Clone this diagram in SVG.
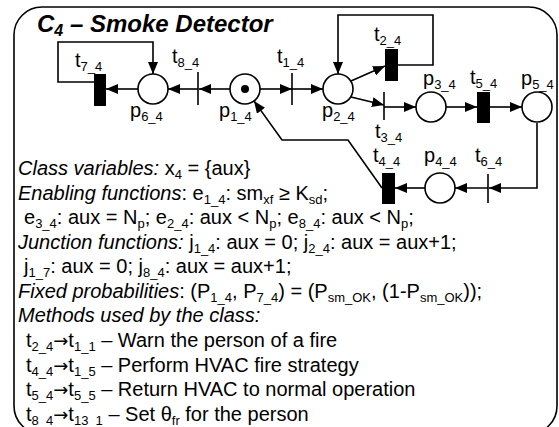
<svg xmlns="http://www.w3.org/2000/svg" width="559" height="427" viewBox="0 0 559 427">
<style>
text{font-family:"Liberation Sans",Arial,sans-serif;font-size:20px;fill:#000}
.i{font-style:italic}
.s{font-size:13px}
.a{font-family:"DejaVu Sans",sans-serif;font-size:18px}
.title{font-weight:bold;font-style:italic;font-size:24px}
.c{fill:#fff;stroke:#000;stroke-width:1.6}
.b{fill:#000}
.bar{stroke:#000;stroke-width:1.6}
.e{fill:none;stroke:#000;stroke-width:1.6;marker-end:url(#ah)}
</style>
<defs>
<marker id="ah" markerUnits="userSpaceOnUse" markerWidth="12" markerHeight="10" refX="12" refY="5" orient="auto">
<path d="M0,0 L12,5 L0,10 z" fill="#000"/>
</marker>
</defs>
<rect x="14" y="7" width="543" height="427" rx="28" ry="28" fill="none" stroke="#000" stroke-width="1.6"/>
<text class="title" x="37" y="32">C<tspan dy="4" font-size="16">4</tspan><tspan dy="-4"> – Smoke Detector</tspan></text>

<g id="connectors">
<path class="e" d="M230,89 H199"/>
<path class="e" d="M198,89 H168"/>
<path class="e" d="M138,89 H106"/>
<path class="e" d="M94,82 H58 V42 H153 V74"/>
<path class="e" d="M260,89 H292"/>
<path class="e" d="M292,89 H323"/>
<path class="e" d="M351,81 L385,66"/>
<path class="e" d="M398,65 H433 V15 H338 V74"/>
<path class="e" d="M351,97 L384,105"/>
<path class="e" d="M384,107 H416"/>
<path class="e" d="M446,107 H477"/>
<path class="e" d="M490,107 H522"/>
<path class="e" d="M537,123 V188 H489"/>
<path class="e" d="M488,188 H455"/>
<path class="e" d="M425,188 H395"/>
<path class="e" d="M382,188 L348,140 H282 L254,101"/>
</g>

<g id="p6_4"><circle class="c" cx="153" cy="89" r="15"/><text x="130" y="117">p<tspan class="s" dy="4">6_4</tspan></text></g>
<g id="t7_4"><rect class="b" x="94" y="74" width="12" height="32"/><text x="75" y="67">t<tspan class="s" dy="4">7_4</tspan></text></g>
<g id="t8_4"><line class="bar" x1="198" y1="72" x2="198" y2="105"/><text x="172" y="63">t<tspan class="s" dy="4">8_4</tspan></text></g>
<g id="p1_4"><circle class="c" cx="245" cy="89" r="15"/><circle class="b" cx="245" cy="89" r="4"/><text x="219" y="117">p<tspan class="s" dy="4">1_4</tspan></text></g>
<g id="t1_4"><line class="bar" x1="292" y1="73" x2="292" y2="105"/><text x="277" y="63">t<tspan class="s" dy="4">1_4</tspan></text></g>
<g id="p2_4"><circle class="c" cx="338" cy="89" r="15"/><text x="322" y="117">p<tspan class="s" dy="4">2_4</tspan></text></g>
<g id="t2_4"><rect class="b" x="385" y="49" width="13" height="32"/><text x="374" y="41">t<tspan class="s" dy="4">2_4</tspan></text></g>
<g id="t3_4"><line class="bar" x1="384" y1="92" x2="384" y2="120"/><text x="375" y="138">t<tspan class="s" dy="4">3_4</tspan></text></g>
<g id="p3_4"><circle class="c" cx="431" cy="107" r="15"/><text x="423" y="85">p<tspan class="s" dy="4">3_4</tspan></text></g>
<g id="t5_4"><rect class="b" x="477" y="92" width="13" height="31"/><text x="470" y="84">t<tspan class="s" dy="4">5_4</tspan></text></g>
<g id="p5_4"><circle class="c" cx="537" cy="107" r="15"/><text x="521" y="85">p<tspan class="s" dy="4">5_4</tspan></text></g>
<g id="t6_4"><line class="bar" x1="488" y1="174" x2="488" y2="203"/><text x="475" y="162">t<tspan class="s" dy="4">6_4</tspan></text></g>
<g id="p4_4"><circle class="c" cx="440" cy="188" r="15"/><text x="424" y="162">p<tspan class="s" dy="4">4_4</tspan></text></g>
<g id="t4_4"><rect class="b" x="382" y="173" width="13" height="31"/><text x="373" y="162">t<tspan class="s" dy="4">4_4</tspan></text></g>

<g id="description">
<text x="18" y="175"><tspan class="i">Class variables:</tspan> x<tspan class="s" dy="4">4</tspan><tspan dy="-4"> = {aux}</tspan></text>
<text x="18" y="200"><tspan class="i">Enabling functions</tspan>: e<tspan class="s" dy="4">1_4</tspan><tspan dy="-4">: sm</tspan><tspan class="s" dy="4">xf</tspan><tspan dy="-4"> ≥ K</tspan><tspan class="s" dy="4">sd</tspan><tspan dy="-4">;</tspan></text>
<text x="24" y="224">e<tspan class="s" dy="4">3_4</tspan><tspan dy="-4">: aux = N</tspan><tspan class="s" dy="4">p</tspan><tspan dy="-4">; e</tspan><tspan class="s" dy="4">2_4</tspan><tspan dy="-4">: aux &lt; N</tspan><tspan class="s" dy="4">p</tspan><tspan dy="-4">; e</tspan><tspan class="s" dy="4">8_4</tspan><tspan dy="-4">: aux &lt; N</tspan><tspan class="s" dy="4">p</tspan><tspan dy="-4">;</tspan></text>
<text x="18" y="249"><tspan class="i">Junction functions:</tspan> j<tspan class="s" dy="4">1_4</tspan><tspan dy="-4">: aux = 0; j</tspan><tspan class="s" dy="4">2_4</tspan><tspan dy="-4">: aux = aux+1;</tspan></text>
<text x="24" y="273">j<tspan class="s" dy="4">1_7</tspan><tspan dy="-4">: aux = 0; j</tspan><tspan class="s" dy="4">8_4</tspan><tspan dy="-4">: aux = aux+1;</tspan></text>
<text x="18" y="298"><tspan class="i">Fixed probabilities</tspan>: (P<tspan class="s" dy="4">1_4</tspan><tspan dy="-4">, P</tspan><tspan class="s" dy="4">7_4</tspan><tspan dy="-4">) = (P</tspan><tspan class="s" dy="4">sm_OK</tspan><tspan dy="-4">, (1-P</tspan><tspan class="s" dy="4">sm_OK</tspan><tspan dy="-4">));</tspan></text>
<text x="18" y="322" class="i">Methods used by the class:</text>
<text x="26" y="347">t<tspan class="s" dy="4">2_4</tspan><tspan class="a" dy="-4">→</tspan><tspan>t</tspan><tspan class="s" dy="4">1_1</tspan><tspan dy="-4"> – Warn the person of a fire</tspan></text>
<text x="26" y="372">t<tspan class="s" dy="4">4_4</tspan><tspan class="a" dy="-4">→</tspan><tspan>t</tspan><tspan class="s" dy="4">1_5</tspan><tspan dy="-4"> – Perform HVAC fire strategy</tspan></text>
<text x="26" y="396">t<tspan class="s" dy="4">5_4</tspan><tspan class="a" dy="-4">→</tspan><tspan>t</tspan><tspan class="s" dy="4">5_5</tspan><tspan dy="-4"> – Return HVAC to normal operation</tspan></text>
<text x="26" y="421">t<tspan class="s" dy="4">8_4</tspan><tspan class="a" dy="-4">→</tspan><tspan>t</tspan><tspan class="s" dy="4">13_1</tspan><tspan dy="-4"> – Set θ</tspan><tspan class="s" dy="4">fr</tspan><tspan dy="-4"> for the person</tspan></text>
</g>
</svg>
